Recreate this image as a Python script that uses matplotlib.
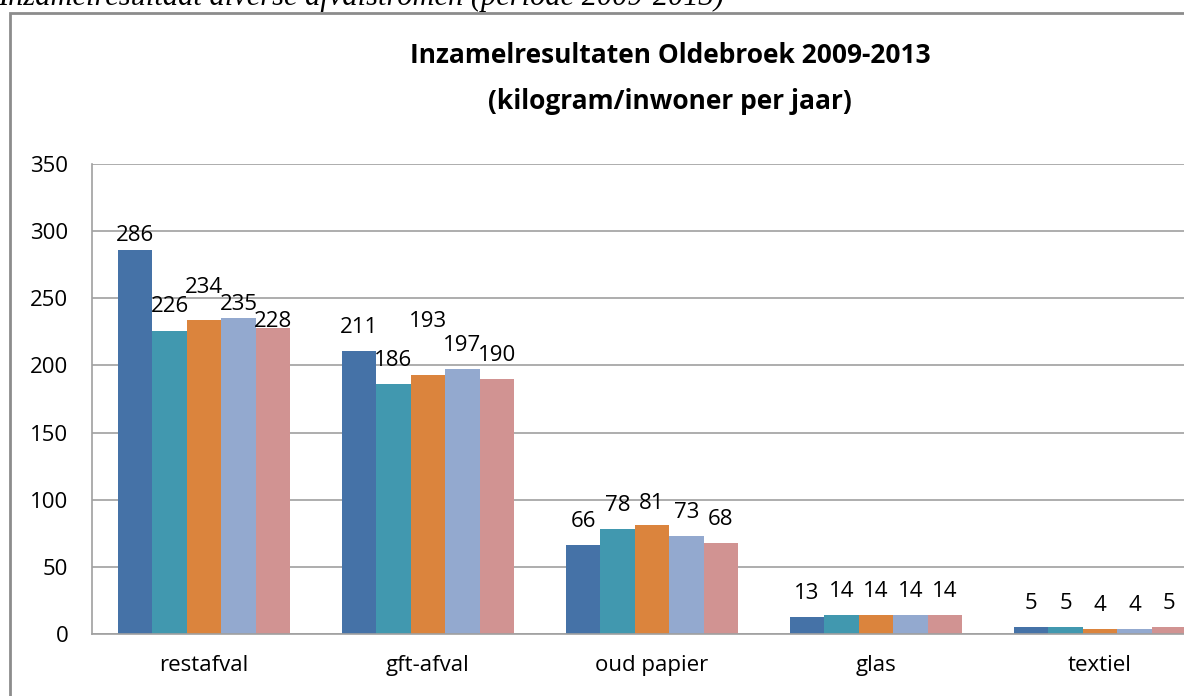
import numpy as np
import matplotlib
matplotlib.use('Agg')
import matplotlib.pyplot as plt
from matplotlib.patches import Rectangle

categories = ['restafval', 'gft-afval', 'oud papier', 'glas', 'textiel']
years = ['2009', '2010', '2011', '2012', '2013']
values = {
    '2009': [286, 211, 66, 13, 5],
    '2010': [226, 186, 78, 14, 5],
    '2011': [234, 193, 81, 14, 4],
    '2012': [235, 197, 73, 14, 4],
    '2013': [228, 190, 68, 14, 5],
}
colors = ['#4572A7', '#4198AF', '#DB843D', '#93A9CF', '#D19392']

# labels that were dragged around in the original (gap above bar in px)
default_gap = 18
label_gap = {(0, 0): 9, (1, 0): 19, (2, 0): 27, (3, 0): 8, (4, 0): 1,
             (2, 1): 48, (2, 2): 16}

W, H = 1184, 696
fig = plt.figure(figsize=(W / 100, H / 100), dpi=100)
font = 'Open Sans'

# outer chart frame (runs off the right and bottom of the crop)
fig.patches.append(Rectangle((10 / W, -0.1), 1.2, (H - 13) / H + 0.1,
                             transform=fig.transFigure, fill=False,
                             edgecolor='#8c8c8c', linewidth=2))

# caption of the document, partly cut off at the top
fig.text(-2 / W, (H - 5) / H,
         'Inzamelresultaat diverse afvalstromen (periode 2009-2013)',
         family='Liberation Serif', style='italic', fontsize=22,
         va='baseline', ha='left')

fig.text(670 / W, (H - 63) / H, 'Inzamelresultaten Oldebroek 2009-2013',
         family=font, weight='bold', fontsize=19, ha='center', va='baseline')
fig.text(670 / W, (H - 109) / H, '(kilogram/inwoner per jaar)',
         family=font, weight='bold', fontsize=19, ha='center', va='baseline')

ax = fig.add_axes([92 / W, 62 / H, 1120 / W, 470 / H])
x = np.arange(len(categories))
width = 0.154
for i, year in enumerate(years):
    pos = x + (i - 2) * width
    ax.bar(pos, values[year], width, color=colors[i], label=year, zorder=2)
    for j, v in enumerate(values[year]):
        gap = label_gap.get((i, j), default_gap)
        ax.annotate(str(v), (pos[j], v), xytext=(0, gap),
                    textcoords='offset pixels', ha='center', va='baseline',
                    family=font, fontsize=16, zorder=3)

ax.set_xlim(-0.5, len(categories) - 0.5)
ax.set_ylim(0, 350)
ax.set_yticks(np.arange(0, 351, 50))
ax.set_xticks(x)
ax.set_xticklabels(categories)
ax.yaxis.grid(True, color='#a0a0a0', linewidth=1.2, zorder=0)
ax.set_axisbelow(True)
for side in ['top', 'right']:
    ax.spines[side].set_visible(False)
for side in ['left', 'bottom']:
    ax.spines[side].set_color('#a0a0a0')
    ax.spines[side].set_linewidth(1.2)
ax.tick_params(length=0, labelsize=16)
ax.tick_params(axis='y', pad=17)
ax.tick_params(axis='x', pad=15)
for lbl in ax.get_xticklabels() + ax.get_yticklabels():
    lbl.set_family(font)

fig.savefig('out.png', dpi=100)
